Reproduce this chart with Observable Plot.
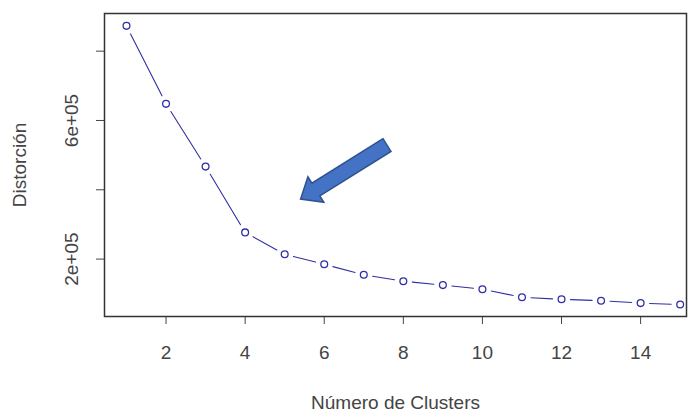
<!DOCTYPE html>
<html><head><meta charset="utf-8">
<script src="https://cdn.jsdelivr.net/npm/d3@7"></script>
<script src="https://cdn.jsdelivr.net/npm/@observablehq/plot@0.6"></script>
<style>body{margin:0;background:#fff;} #chart svg{font-family:"Liberation Sans",Arial,sans-serif;}</style>
</head><body><div id="chart"></div>
<script>
const clusters = [1, 2, 3, 4, 5, 6, 7, 8, 9, 10, 11, 12, 13, 14, 15];
const distortion = [873000, 648000, 467000, 277000, 214000, 185000, 155000, 136000, 125000, 113000, 90000, 84000, 80000, 73000, 69000];
const xTicks = [2, 4, 6, 8, 10, 12, 14];
const yTicks = [200000, 400000, 600000, 800000];
const yTickLabels = {200000: "2e+05", 600000: "6e+05"};
const arrowTail = {x: 7.60, y: 527700};
const arrowTip = {x: 5.415, y: 371700};

const points = clusters.map((c, i) => ({x: c, y: distortion[i]}));
const segments = points.slice(1).map((p, i) => ({x1: points[i].x, y1: points[i].y, x2: p.x, y2: p.y}));
const col = "#3030a4";

function blockArrow(index, scales) {
  const sx = scales.x, sy = scales.y;
  const tx = sx(arrowTail.x), ty = sy(arrowTail.y), px = sx(arrowTip.x), py = sy(arrowTip.y);
  const L = Math.hypot(px - tx, py - ty);
  const ux = (px - tx) / L, uy = (py - ty) / L, nx = -uy, ny = ux;
  const sw = 7.5, hw = 15, hl = 18;
  const hx = px - ux * hl, hy = py - uy * hl;
  const pts = [
    [tx + nx * sw, ty + ny * sw], [hx + nx * sw, hy + ny * sw], [hx + nx * hw, hy + ny * hw],
    [px, py], [hx - nx * hw, hy - ny * hw], [hx - nx * sw, hy - ny * sw], [tx - nx * sw, ty - ny * sw]
  ];
  const path = document.createElementNS("http://www.w3.org/2000/svg", "path");
  path.setAttribute("d", "M" + pts.map(p => p.join(",")).join("L") + "Z");
  path.setAttribute("fill", "#4472c4");
  path.setAttribute("stroke", "#2f528f");
  path.setAttribute("stroke-width", "1.5");
  path.setAttribute("stroke-linejoin", "miter");
  return path;
}

const chart = Plot.plot({
  width: 691, height: 411,
  marginLeft: 104, marginRight: 5, marginTop: 13, marginBottom: 95,
  style: {fontSize: "19px", color: "#444", background: "#fff"},
  x: {domain: [0.444, 15.16], ticks: xTicks, tickSize: 8, tickPadding: 21,
      label: "Número de Clusters", labelArrow: false, labelAnchor: "center", labelOffset: 92},
  y: {domain: [34400, 908700], ticks: yTicks, tickSize: 8, tickPadding: 19, tickRotate: -90,
      tickFormat: d => yTickLabels[d] || "",
      label: "Distorción", labelArrow: false, labelAnchor: "center", labelOffset: 92},
  marks: [
    Plot.arrow(segments, {x1: "x1", y1: "y1", x2: "x2", y2: "y2", stroke: col, strokeWidth: 1.1,
      headLength: 0, insetStart: 9, insetEnd: 9}),
    Plot.dot(points, {x: "x", y: "y", r: 3.4, stroke: col, strokeWidth: 1.3, fill: "none"}),
    blockArrow,
    Plot.frame({stroke: "#333", strokeWidth: 1.5})
  ]
});
document.getElementById("chart").appendChild(chart);
</script>
</body></html>
